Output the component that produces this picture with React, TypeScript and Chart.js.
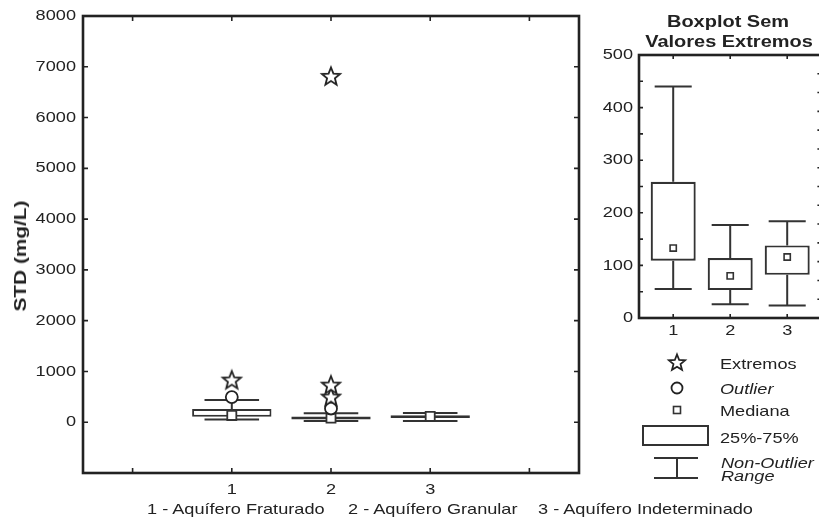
import React, { useEffect, useRef } from 'react';
import { Chart, registerables } from 'chart.js';

Chart.register(...registerables);

// ---- data ----
const categories = [1, 2, 3];
const categoryLabels = ['1', '2', '3'];
const q1 = [109, 53, 82];
const q3 = [259, 114, 138];
const medians = [133, 80, 116];
const whiskerLow = [55, 26, 24];
const whiskerHigh = [440, 177, 184];
const outliers = [
  { x: 1, y: 495 },
  { x: 2, y: 270 },
];
const extremes = [
  { x: 1, y: 820 },
  { x: 2, y: 485 },
  { x: 2, y: 720 },
  { x: 2, y: 6800 },
];
const mainXTicks = [0, 1, 2, 3, 4];
const mainYTicks = [0, 1000, 2000, 3000, 4000, 5000, 6000, 7000, 8000];
const insetYTicks = [0, 50, 100, 150, 200, 250, 300, 350, 400, 450, 500];
const captions = ['1 - Aquífero Fraturado', '2 - Aquífero Granular', '3 - Aquífero Indeterminado'];
const insetTitle = ['Boxplot Sem', 'Valores Extremos'];
const yTitle = 'STD (mg/L)';

const FONT = '"Liberation Sans", Arial, Helvetica, sans-serif';
const INK = '#222';
const LINE = '#333';
const STRETCH = 1.21;

function stretchText(ctx: any, sx: number) {
  if (ctx.__stretched) return;
  ctx.__stretched = true;
  const orig = ctx.fillText.bind(ctx);
  ctx.fillText = (text: string, x: number, y: number, maxWidth?: number) => {
    ctx.save();
    ctx.translate(x, y);
    ctx.scale(sx, 1);
    if (maxWidth !== undefined && maxWidth !== null) orig(text, 0, 0, maxWidth / sx);
    else orig(text, 0, 0);
    ctx.restore();
  };
}

function makeStar(size: number, outer: number, inner: number, lw: number) {
  const c = document.createElement('canvas');
  c.width = size;
  c.height = size;
  const g = c.getContext('2d')!;
  g.beginPath();
  for (let i = 0; i < 10; i++) {
    const r = i % 2 === 0 ? outer : inner;
    const a = -Math.PI / 2 + (i * Math.PI) / 5;
    const px = size / 2 + r * Math.cos(a);
    const py = size / 2 + r * Math.sin(a);
    if (i === 0) g.moveTo(px, py);
    else g.lineTo(px, py);
  }
  g.closePath();
  g.fillStyle = '#fff';
  g.fill();
  g.lineWidth = lw;
  g.strokeStyle = INK;
  g.lineJoin = 'miter';
  g.stroke();
  return c;
}

function makeWhiskerPlugin(capWidth: number, lw: number) {
  return {
    id: 'whiskers',
    beforeDatasetsDraw(chart: any) {
      const { ctx } = chart;
      const x = chart.scales.x;
      const y = chart.scales.y;
      ctx.save();
      ctx.strokeStyle = LINE;
      ctx.lineWidth = lw;
      ctx.lineCap = 'butt';
      categories.forEach((c, i) => {
        const px = x.getPixelForValue(c);
        const half = x.getPixelForValue(c + capWidth / 2) - px;
        const yl = y.getPixelForValue(whiskerLow[i]);
        const yh = y.getPixelForValue(whiskerHigh[i]);
        const y1 = y.getPixelForValue(q1[i]);
        const y3 = y.getPixelForValue(q3[i]);
        ctx.beginPath();
        ctx.moveTo(px, y3);
        ctx.lineTo(px, yh);
        ctx.moveTo(px, y1);
        ctx.lineTo(px, yl);
        ctx.moveTo(px - half, yh);
        ctx.lineTo(px + half, yh);
        ctx.moveTo(px - half, yl);
        ctx.lineTo(px + half, yl);
        ctx.stroke();
      });
      ctx.restore();
    },
  };
}

function makeFramePlugin(o: { tickLen: number; frameWidth: number; rightDivisions?: number }) {
  return {
    id: 'frameTicks',
    afterDatasetsDraw(chart: any) {
      const { ctx, chartArea: a } = chart;
      const x = chart.scales.x;
      const y = chart.scales.y;
      ctx.save();
      ctx.strokeStyle = INK;
      ctx.lineWidth = 1.6;
      ctx.beginPath();
      x.ticks.forEach((t: any) => {
        const px = x.getPixelForValue(t.value);
        ctx.moveTo(px, a.bottom);
        ctx.lineTo(px, a.bottom - o.tickLen);
        ctx.moveTo(px, a.top);
        ctx.lineTo(px, a.top + o.tickLen);
      });
      y.ticks.forEach((t: any) => {
        const py = y.getPixelForValue(t.value);
        ctx.moveTo(a.left, py);
        ctx.lineTo(a.left + o.tickLen, py);
        if (!o.rightDivisions) {
          ctx.moveTo(a.right, py);
          ctx.lineTo(a.right - o.tickLen, py);
        }
      });
      if (o.rightDivisions) {
        for (let k = 1; k < o.rightDivisions; k++) {
          const py = y.getPixelForValue(y.min + ((y.max - y.min) * k) / o.rightDivisions);
          ctx.moveTo(a.right, py);
          ctx.lineTo(a.right - o.tickLen, py);
        }
      }
      ctx.stroke();
      ctx.lineWidth = o.frameWidth;
      ctx.strokeRect(a.left, a.top, a.right - a.left, a.bottom - a.top);
      ctx.restore();
    },
  };
}

const tickFont = { family: FONT, size: 15 };

export default function App() {
  const mainRef = useRef<HTMLCanvasElement>(null);
  const insetRef = useRef<HTMLCanvasElement>(null);

  useEffect(() => {
    const mctx = mainRef.current!.getContext('2d')!;
    stretchText(mctx, STRETCH);
    const ictx = insetRef.current!.getContext('2d')!;
    stretchText(ictx, STRETCH);

    const starMain = makeStar(26, 9.5, 4.1, 1.8);

    const main = new Chart(mctx, {
      type: 'bar',
      data: {
        datasets: [
          {
            type: 'scatter',
            data: extremes,
            pointStyle: starMain as any,
            order: 0,
          } as any,
          {
            type: 'scatter',
            data: outliers,
            pointStyle: 'circle',
            radius: 6,
            borderWidth: 1.8,
            borderColor: INK,
            backgroundColor: '#fff',
            order: 0,
          },
          {
            type: 'scatter',
            data: categories.map((c, i) => ({ x: c, y: medians[i] })),
            pointStyle: 'rect',
            radius: 6.4,
            borderWidth: 1.8,
            borderColor: LINE,
            backgroundColor: '#fff',
            order: 0,
          },
          {
            type: 'bar',
            data: categories.map((c, i) => ({ x: c, y: [q1[i], q3[i]] })),
            backgroundColor: '#fff',
            borderColor: LINE,
            borderWidth: 2,
            borderSkipped: false,
            barPercentage: 0.8,
            categoryPercentage: 1,
            order: 2,
          } as any,
        ],
      },
      options: {
        responsive: false,
        maintainAspectRatio: false,
        animation: false,
        events: [],
        layout: { padding: { left: 0, top: 14, right: 21, bottom: 0 } },
        plugins: { legend: { display: false }, tooltip: { enabled: false } },
        scales: {
          x: {
            type: 'linear',
            min: -0.5,
            max: 4.5,
            offset: false,
            afterBuildTicks: (s: any) => {
              s.ticks = mainXTicks.map((v) => ({ value: v }));
            },
            afterFit: (s: any) => {
              s.height = 27;
            },
            grid: { display: false, drawTicks: false },
            border: { display: false },
            ticks: {
              padding: 8,
              color: INK,
              font: tickFont,
              autoSkip: false,
              maxRotation: 0,
              callback: (v: any) => {
                const i = categories.indexOf(Number(v));
                return i >= 0 ? categoryLabels[i] : '';
              },
            },
          },
          y: {
            type: 'linear',
            min: -1000,
            max: 8000,
            afterBuildTicks: (s: any) => {
              s.ticks = mainYTicks.map((v) => ({ value: v }));
            },
            afterFit: (s: any) => {
              s.width = 83;
            },
            grid: { display: false, drawTicks: false },
            border: { display: false },
            ticks: {
              padding: 7,
              color: INK,
              font: tickFont,
              callback: (v: any) => String(v),
            },
          },
        } as any,
      },
      plugins: [makeWhiskerPlugin(0.55, 2), makeFramePlugin({ tickLen: 5, frameWidth: 2.6 })],
    } as any);

    const inset = new Chart(ictx, {
      type: 'bar',
      data: {
        datasets: [
          {
            type: 'scatter',
            data: categories.map((c, i) => ({ x: c, y: medians[i] })),
            pointStyle: 'rect',
            radius: 4.4,
            borderWidth: 1.6,
            borderColor: LINE,
            backgroundColor: '#fff',
            order: 0,
          },
          {
            type: 'bar',
            data: categories.map((c, i) => ({ x: c, y: [q1[i], q3[i]] })),
            backgroundColor: '#fff',
            borderColor: LINE,
            borderWidth: 2.2,
            borderSkipped: false,
            barPercentage: 0.79,
            categoryPercentage: 1,
            order: 2,
          } as any,
        ],
      },
      options: {
        responsive: false,
        maintainAspectRatio: false,
        animation: false,
        events: [],
        layout: { padding: { left: 0, top: 55, right: 8.6, bottom: 0 } },
        plugins: { legend: { display: false }, tooltip: { enabled: false } },
        scales: {
          x: {
            type: 'linear',
            min: 0.4,
            max: 3.6,
            offset: false,
            afterBuildTicks: (s: any) => {
              s.ticks = categories.map((v) => ({ value: v }));
            },
            afterFit: (s: any) => {
              s.height = 27;
            },
            grid: { display: false, drawTicks: false },
            border: { display: false },
            ticks: {
              padding: 4,
              color: INK,
              font: tickFont,
              autoSkip: false,
              maxRotation: 0,
              callback: (v: any) => {
                const i = categories.indexOf(Number(v));
                return i >= 0 ? categoryLabels[i] : '';
              },
            },
          },
          y: {
            type: 'linear',
            min: 0,
            max: 500,
            afterBuildTicks: (s: any) => {
              s.ticks = insetYTicks.map((v) => ({ value: v }));
            },
            afterFit: (s: any) => {
              s.width = 49;
            },
            grid: { display: false, drawTicks: false },
            border: { display: false },
            ticks: {
              padding: 6,
              color: INK,
              font: tickFont,
              autoSkip: false,
              callback: (v: any) => (Number(v) % 100 === 0 ? String(v) : ''),
            },
          },
        } as any,
      },
      plugins: [makeWhiskerPlugin(0.65, 2), makeFramePlugin({ tickLen: 4, frameWidth: 2.6, rightDivisions: 14 })],
    } as any);

    return () => {
      main.destroy();
      inset.destroy();
    };
  }, []);

  const centered = (cx: number, cy: number, extra: React.CSSProperties = {}): React.CSSProperties => ({
    position: 'absolute',
    left: cx,
    top: cy,
    transform: `translate(-50%, -50%) scaleX(${STRETCH})`,
    whiteSpace: 'nowrap',
    lineHeight: 1,
    ...extra,
  });
  const leftAt = (x: number, cy: number, extra: React.CSSProperties = {}): React.CSSProperties => ({
    position: 'absolute',
    left: x,
    top: cy,
    transform: `translateY(-50%) scaleX(${STRETCH})`,
    transformOrigin: 'left center',
    whiteSpace: 'nowrap',
    lineHeight: 1,
    fontSize: 15,
    ...extra,
  });

  return (
    <div
      style={{
        position: 'fixed',
        left: 0,
        top: 0,
        width: 819,
        height: 517,
        overflow: 'hidden',
        background: '#fff',
        fontFamily: FONT,
        color: INK,
      }}
    >
      <canvas ref={mainRef} width={600} height={500} style={{ position: 'absolute', left: 0, top: 0 }} />
      <canvas ref={insetRef} width={240} height={345} style={{ position: 'absolute', left: 590, top: 0 }} />

      {/* y axis title */}
      <div
        style={{
          position: 'absolute',
          left: 21,
          top: 256,
          transform: 'translate(-50%, -50%) rotate(-90deg) scaleX(1.3)',
          whiteSpace: 'nowrap',
          lineHeight: 1,
          fontSize: 16,
          fontWeight: 'bold',
        }}
      >
        {yTitle}
      </div>

      {/* inset title */}
      <div style={centered(728, 21, { fontSize: 16.5, fontWeight: 'bold' })}>{insetTitle[0]}</div>
      <div style={centered(729, 41, { fontSize: 16.5, fontWeight: 'bold' })}>{insetTitle[1]}</div>

      {/* captions */}
      <div style={leftAt(147, 508)}>{captions[0]}</div>
      <div style={leftAt(348, 508)}>{captions[1]}</div>
      <div style={leftAt(538, 508)}>{captions[2]}</div>

      {/* legend symbols */}
      <svg width={819} height={517} style={{ position: 'absolute', left: 0, top: 0, pointerEvents: 'none' }}>
        <polygon
          points={Array.from({ length: 10 }, (_, i) => {
            const r = i % 2 === 0 ? 8.5 : 3.7;
            const a = -Math.PI / 2 + (i * Math.PI) / 5;
            return `${677 + r * Math.cos(a)},${363 + r * Math.sin(a)}`;
          }).join(' ')}
          fill="#fff"
          stroke={INK}
          strokeWidth={1.8}
        />
        <circle cx={677} cy={388} r={5.5} fill="#fff" stroke={INK} strokeWidth={1.8} />
        <rect x={673.5} y={406.5} width={7} height={7} fill="#fff" stroke={LINE} strokeWidth={1.6} />
        <rect x={643} y={426} width={65} height={19} fill="#fff" stroke={LINE} strokeWidth={2} />
        <line x1={654} y1={458} x2={698} y2={458} stroke={LINE} strokeWidth={2} />
        <line x1={654} y1={478} x2={698} y2={478} stroke={LINE} strokeWidth={2} />
        <line x1={677} y1={458} x2={677} y2={478} stroke={LINE} strokeWidth={2} />
      </svg>

      {/* legend labels */}
      <div style={leftAt(720, 363)}>Extremos</div>
      <div style={leftAt(720, 388, { fontStyle: 'italic' })}>Outlier</div>
      <div style={leftAt(720, 410)}>Mediana</div>
      <div style={leftAt(720, 437)}>25%-75%</div>
      <div style={leftAt(721, 462, { fontStyle: 'italic' })}>Non-Outlier</div>
      <div style={leftAt(721, 475, { fontStyle: 'italic' })}>Range</div>
    </div>
  );
}
